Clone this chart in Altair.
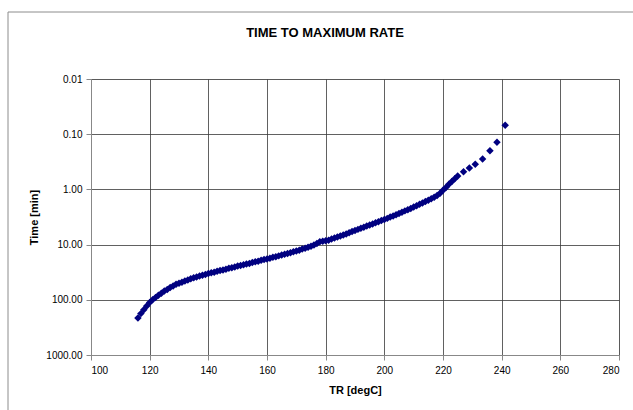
import altair as alt
import pandas as pd

# Reactor temperature [degC]
temp_c = [116, 117, 118, 119, 120, 121, 122, 123, 124, 125,
          126, 127, 128, 129, 130, 131, 132, 133, 134, 135,
          136, 137, 138, 139, 140, 141, 142, 143, 144, 145,
          146, 147, 148, 149, 150, 151, 152, 153, 154, 155,
          156, 157, 158, 159, 160, 161, 162, 163, 164, 165,
          166, 167, 168, 169, 170, 171, 172, 173, 174, 175,
          176, 177, 178, 179, 180, 181, 182, 183, 184, 185,
          186, 187, 188, 189, 190, 191, 192, 193, 194, 195,
          196, 197, 198, 199, 200, 201, 202, 203, 204, 205,
          206, 207, 208, 209, 210, 211, 212, 213, 214, 215,
          216, 217, 218, 219, 220, 221, 222, 223, 224, 225,
          227, 229, 231, 233.5, 236, 238.4, 241.2]

# Time to maximum rate [min]
time_min = [214, 178, 151, 129, 112, 100, 91, 83, 76, 69,
            65, 60, 56, 52.5, 50, 48, 45.7, 43.6, 41.7, 39.8,
            38.5, 37.2, 35.9, 34.7, 33.5, 32.4, 31.6, 30.5, 29.5, 28.8,
            27.9, 26.9, 26.3, 25.4, 24.5, 24.0, 23.2, 22.4, 21.9, 21.1,
            20.4, 20.0, 19.3, 18.6, 18.2, 17.6, 17.0, 16.6, 16.0, 15.5,
            15.0, 14.5, 14.0, 13.5, 13.0, 12.6, 12.0, 11.6, 11.2, 10.7,
            10.2, 9.55, 8.9, 8.7, 8.5, 8.3, 7.9, 7.6, 7.3, 7.0,
            6.7, 6.4, 6.1, 5.8, 5.56, 5.3, 5.07, 4.84, 4.62, 4.42,
            4.22, 4.03, 3.85, 3.67, 3.5, 3.35, 3.16, 3.02, 2.88, 2.72,
            2.60, 2.45, 2.34, 2.21, 2.09, 1.97, 1.86, 1.76, 1.66, 1.57,
            1.48, 1.39, 1.29, 1.17, 1.04, 0.92, 0.81, 0.72, 0.64, 0.57,
            0.48, 0.41, 0.35, 0.28, 0.20, 0.14, 0.069]

x_ticks = [100, 120, 140, 160, 180, 200, 220, 240, 260, 280]
y_ticks = [0.01, 0.1, 1, 10, 100, 1000]
chart_title = "TIME TO MAXIMUM RATE"

df = pd.DataFrame({"T": temp_c, "t": time_min})

FONT = "Liberation Sans"
GRID = "#3a3a3a"

points = alt.Chart(df).mark_point(
    shape="diamond", filled=True, size=56, color="#000080", opacity=1
).encode(
    x=alt.X("T:Q",
            scale=alt.Scale(domain=[100, 280], nice=False, zero=False),
            axis=alt.Axis(values=x_ticks, title="TR [degC]", format="d",
                          tickSize=5, labelPadding=5, titlePadding=9,
                          gridColor=GRID, gridOpacity=0.8)),
    y=alt.Y("t:Q",
            scale=alt.Scale(type="log", domain=[0.01, 1000], reverse=True, nice=False),
            axis=alt.Axis(values=y_ticks, title="Time [min]", format=".2f",
                          tickSize=5, labelPadding=4, titlePadding=6,
                          gridColor=GRID, gridOpacity=0.8)),
)

one = pd.DataFrame({"k": [0]})

frame = alt.Chart(one).mark_rect(
    fill=None, stroke="#8c8c8c", strokeWidth=1
).encode(
    x=alt.value(-83), x2=alt.value(560), y=alt.value(-67), y2=alt.value(360)
)

title = alt.Chart(one).mark_text(
    font=FONT, fontSize=13, fontWeight="bold", color="black",
    align="center", baseline="middle"
).encode(
    x=alt.value(234), y=alt.value(-46), text=alt.value(chart_title)
)

chart = alt.layer(frame, title, points).properties(
    width=528,
    height=276,
    autosize=alt.AutoSizeParams(type="none"),
    padding={"left": 91, "top": 79, "right": 14, "bottom": 55},
).configure_axis(
    labelFont=FONT, labelFontSize=11, labelColor="black",
    titleFont=FONT, titleFontSize=10.5, titleFontWeight="bold", titleColor="black",
    grid=True, gridWidth=1,
    domainColor="#555555", tickColor="#555555", domainWidth=1, tickWidth=1,
).configure_view(
    stroke="#555555", strokeWidth=1
).configure(background="white")

chart.save("out.html", embed_options={"renderer": "svg", "actions": False})
